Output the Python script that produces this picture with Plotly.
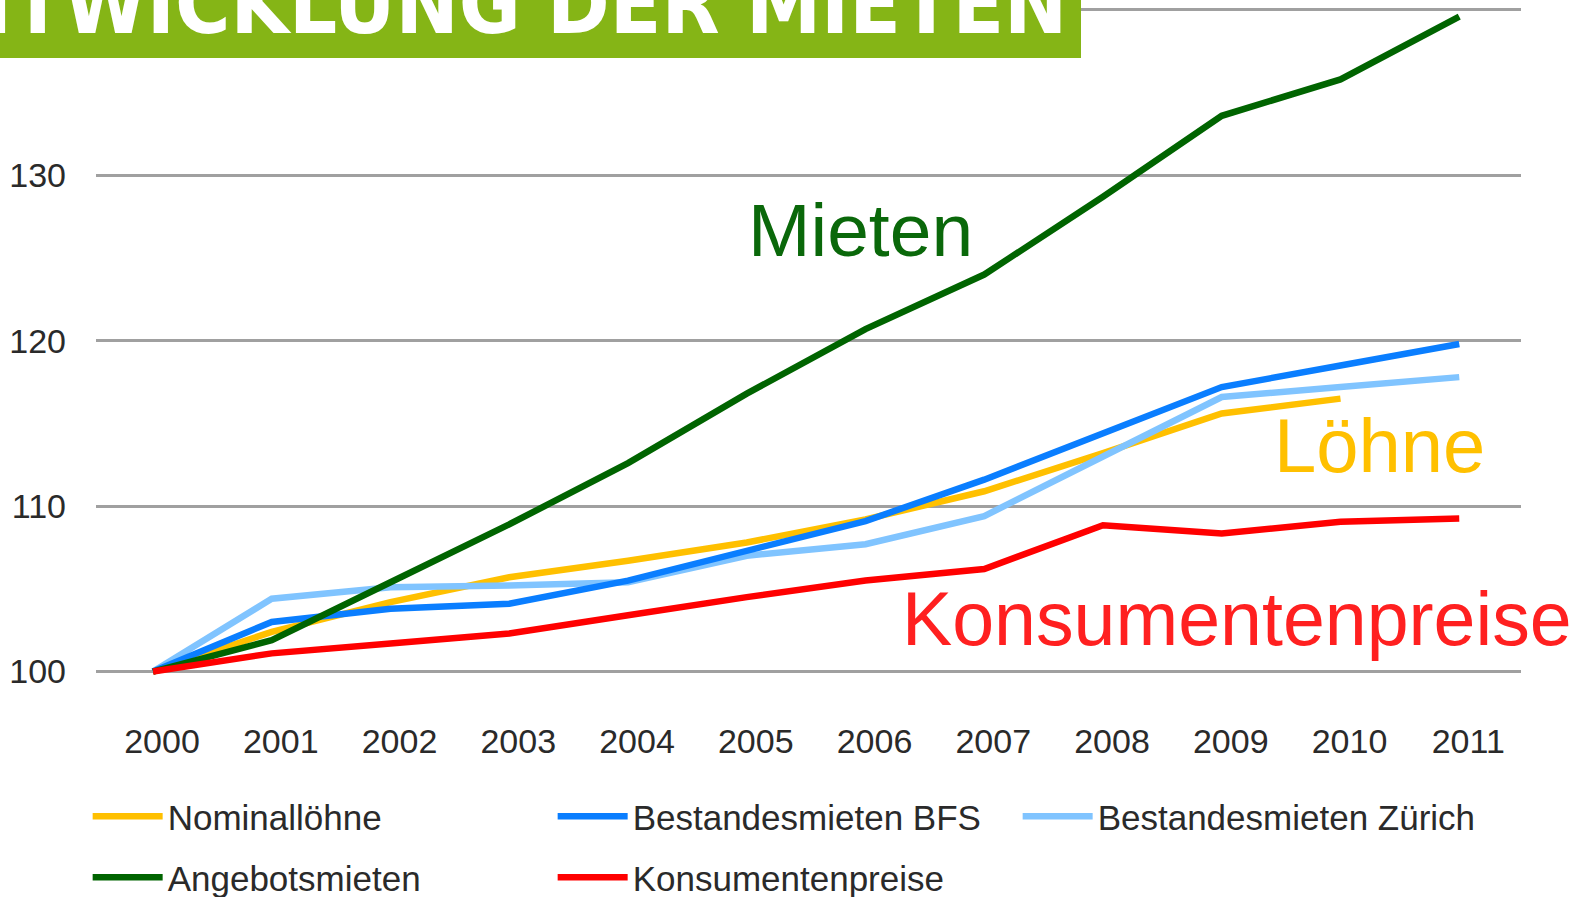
import plotly.graph_objects as go

years = [2000, 2001, 2002, 2003, 2004, 2005, 2006, 2007, 2008, 2009, 2010, 2011]
year_labels = ["2000", "2001", "2002", "2003", "2004", "2005", "2006", "2007", "2008", "2009", "2010", "2011"]

nominalloehne = [100, 102.4, 104.2, 105.7, 106.7, 107.8, 109.2, 110.9, 113.2, 115.6, 116.5, None]
bestand_bfs = [100, 103.0, 103.8, 104.1, 105.5, 107.3, 109.1, 111.6, 114.4, 117.2, 118.5, 119.8]
bestand_zuerich = [100, 104.4, 105.1, 105.2, 105.4, 107.0, 107.7, 109.4, 113.0, 116.6, 117.2, 117.8]
angebotsmieten = [100, 101.9, 105.4, 108.9, 112.6, 116.8, 120.7, 124.0, 128.7, 133.6, 135.8, 139.6]
konsumentenpreise = [100, 101.1, 101.7, 102.3, 103.4, 104.5, 105.5, 106.2, 108.85, 108.35, 109.05, 109.25]

y_ticks = [100, 110, 120, 130, 140]
y_tick_labels = ["100", "110", "120", "130", ""]

# name, values, colour, legend rank, legend row
series = [
    ("Nominallöhne", nominalloehne, "#FFC000", 1, "legend"),
    ("Bestandesmieten Zürich", bestand_zuerich, "#80C4FF", 3, "legend"),
    ("Bestandesmieten BFS", bestand_bfs, "#0A7EFF", 2, "legend"),
    ("Angebotsmieten", angebotsmieten, "#006400", 4, "legend2"),
    ("Konsumentenpreise", konsumentenpreise, "#FF0000", 5, "legend2"),
]

fig = go.Figure()
for name, vals, color, rank, leg in series:
    fig.add_trace(go.Scatter(
        x=years, y=vals, name=name, mode="lines",
        line=dict(color=color, width=6.5),
        legendrank=rank, legend=leg, connectgaps=False,
    ))

W, H = 1588, 897
L, R, T, B = 96, 67, 0, 197

legend_common = dict(
    orientation="h", xref="container", yref="container",
    x=0.0552, xanchor="left", yanchor="top",
    font=dict(size=35, color="#2a2a2a", family="Liberation Sans, Arial, sans-serif"),
    entrywidth=380, entrywidthmode="pixels", itemwidth=70,
    traceorder="normal", bgcolor="rgba(0,0,0,0)",
)

fig.update_layout(
    width=W, height=H,
    margin=dict(l=L, r=R, t=T, b=B),
    paper_bgcolor="white", plot_bgcolor="white",
    font=dict(family="Liberation Sans, Arial, sans-serif", color="#2a2a2a"),
    xaxis=dict(
        range=[1999.52, 2011.52], tickmode="array", tickvals=years, ticktext=year_labels,
        showgrid=False, zeroline=False, showline=False, ticks="",
        tickfont=dict(size=34, color="#2a2a2a"), ticklabelstandoff=18, ticklabelshift=9,
    ),
    yaxis=dict(
        range=[98.28, 140.6], tickmode="array", tickvals=y_ticks, ticktext=y_tick_labels,
        showgrid=True, gridcolor="#A0A0A0", gridwidth=2.5, zeroline=False, showline=False,
        ticks="", tickfont=dict(size=34, color="#2a2a2a"), ticklabelstandoff=29,
    ),
    showlegend=True,
    legend=dict(legend_common, y=1 - 787 / 897),
    legend2=dict(legend_common, y=1 - 848 / 897),
)

# title banner
px_w = W - L - R
px_h = H - T - B
def px_x(x):
    return (x - L) / px_w
def px_y(y):
    return (px_h - (y - T)) / px_h

fig.add_shape(type="rect", xref="paper", yref="paper",
              x0=px_x(-5), x1=px_x(1081), y0=px_y(58), y1=px_y(-5),
              fillcolor="#85B516", line=dict(width=0), layer="above")
fig.add_annotation(xref="paper", yref="paper", x=px_x(1069), y=px_y(55),
                   xanchor="right", yanchor="bottom", showarrow=False,
                   text="<b>ENTWICKLUNG DER MIETEN</b>",
                   font=dict(family="DejaVu Sans Condensed, sans-serif",
                             size=84, color="white"))

# series labels
fig.add_annotation(x=2005.96, y=126.69, xref="x", yref="y", text="Mieten", showarrow=False,
                   xanchor="center", yanchor="middle",
                   font=dict(size=75, color="#0A680A", family="Liberation Sans, Arial"))
fig.add_annotation(x=2010.33, y=113.64, xref="x", yref="y", text="Löhne", showarrow=False,
                   xanchor="center", yanchor="middle",
                   font=dict(size=76, color="#FFC000", family="Liberation Sans, Arial"))
fig.add_annotation(x=2009.13, y=103.15, xref="x", yref="y", text="Konsumentenpreise", showarrow=False,
                   xanchor="center", yanchor="middle",
                   font=dict(size=75.3, color="#FF2020", family="Liberation Sans, Arial"))

fig.write_html("out.html", config={"displayModeBar": False},
               post_script="document.body.style.margin='0';")
